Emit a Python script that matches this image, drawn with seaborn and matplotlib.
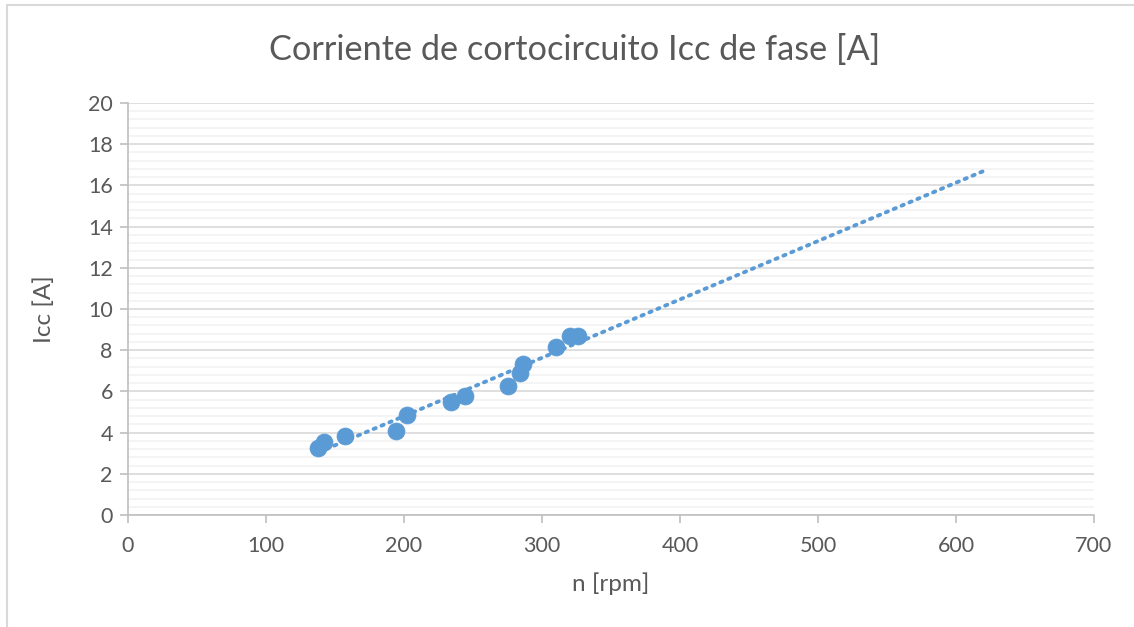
import numpy as np
import pandas as pd
import seaborn as sns
import matplotlib.pyplot as plt
from matplotlib.ticker import MultipleLocator
from matplotlib.patches import Rectangle

n_rpm = [138, 142, 157, 194, 202, 234, 244, 275, 284, 286, 310, 320, 326]
icc_a = [3.25, 3.55, 3.82, 4.10, 4.85, 5.50, 5.80, 6.25, 6.90, 7.35, 8.15, 8.70, 8.70]
title = "Corriente de cortocircuito Icc de fase [A]"
xlabel = "n [rpm]"
ylabel = "Icc [A]"
forecast_forward = 295

df = pd.DataFrame({"n": n_rpm, "icc": icc_a})

sns.set_theme(style="white")
plt.rcParams['font.family'] = ['Lato', 'DejaVu Sans']

fig = plt.figure(figsize=(11.34, 6.27), dpi=100)
ax = fig.add_axes([0.1129, 0.1786, 0.8518, 0.6571])

blue = "#5b9bd5"
text_col = "#595959"

# trendline
coef = np.polyfit(df["n"], df["icc"], 1)
tx = np.array([df["n"].min(), df["n"].max() + forecast_forward])
ty = np.polyval(coef, tx)
ax.plot(tx, ty, linestyle=(0, (0.6, 1.6)), color=blue, linewidth=2.8,
        dash_capstyle="round", zorder=2)

sns.scatterplot(data=df, x="n", y="icc", ax=ax, color=blue, s=150,
                edgecolor=blue, linewidth=0.5, zorder=3)

ax.set_xlim(0, 700)
ax.set_ylim(0, 20)
ax.xaxis.set_major_locator(MultipleLocator(100))
ax.yaxis.set_major_locator(MultipleLocator(2))
ax.yaxis.set_minor_locator(MultipleLocator(0.4))
ax.grid(True, which="major", axis="y", color="#d9d9d9", linewidth=1.2, zorder=0)
ax.grid(True, which="minor", axis="y", color="#f2f2f2", linewidth=1.2, zorder=0)
ax.set_axisbelow(True)

for s in ["top", "right"]:
    ax.spines[s].set_visible(False)
for s in ["left", "bottom"]:
    ax.spines[s].set_color("#bfbfbf")
    ax.spines[s].set_linewidth(1.2)

ax.tick_params(axis="both", which="major", direction="out", length=6, width=1.2,
               color="#bfbfbf", labelsize=15.5, labelcolor=text_col, pad=6)
ax.tick_params(axis="x", which="major", bottom=True, pad=9)
ax.tick_params(axis="y", which="major", left=True, pad=5)
ax.tick_params(axis="both", which="minor", length=0)

ax.set_xlabel(xlabel, fontsize=17.5, color=text_col, labelpad=12)
ax.set_ylabel(ylabel, fontsize=17.5, color=text_col, labelpad=24)
fig.text(575 / 1134, 0.92, title, ha="center", va="center", fontsize=24.7, color=text_col)

fig.patches.append(Rectangle((7 / 1134, -0.01), 1.1, (627 - 5) / 627 + 0.01,
                             transform=fig.transFigure, fill=False,
                             edgecolor="#d9d9d9", linewidth=1.5))

fig.savefig("out.png", dpi=100, facecolor="white")
